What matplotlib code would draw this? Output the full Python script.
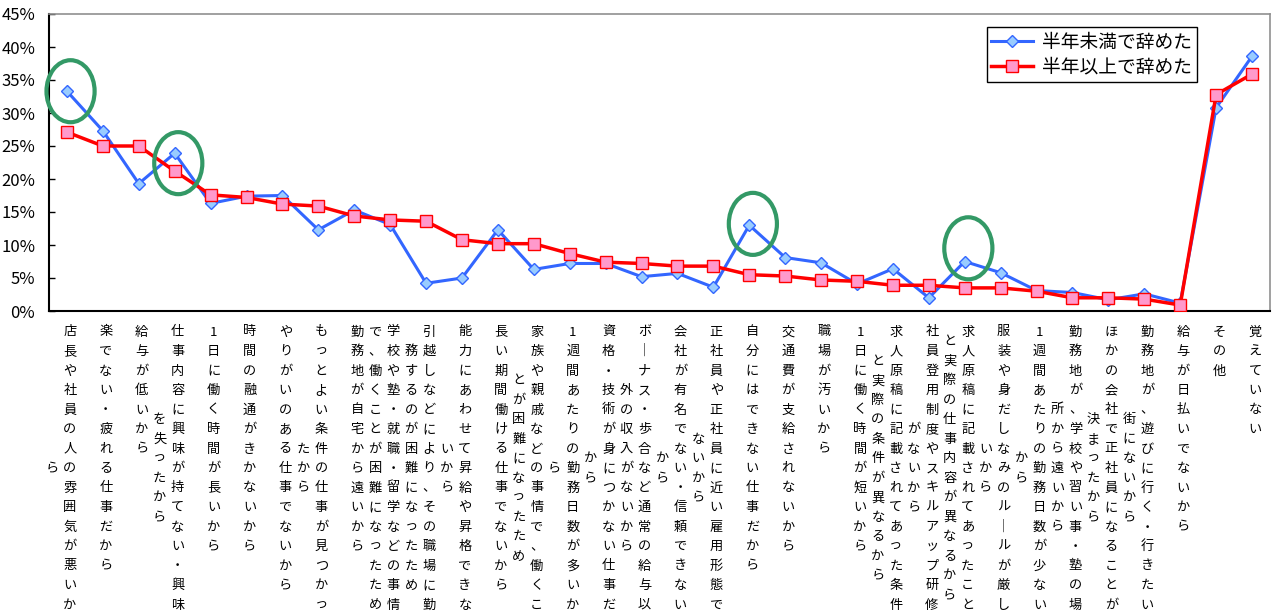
import matplotlib
matplotlib.use("Agg")
import matplotlib.pyplot as plt
import matplotlib.transforms as mtransforms
from matplotlib.patches import Ellipse
from matplotlib.ticker import FuncFormatter

plt.rcParams['font.family'] = ['Noto Sans CJK JP', 'DejaVu Sans']

# data (%)
reasons = [
    "店長や社員の人の雰囲気が悪いから",
    "楽でない・疲れる仕事だから",
    "給与が低いから",
    "仕事内容に興味が持てない・興味を失ったから",
    "1日に働く時間が長いから",
    "時間の融通がきかないから",
    "やりがいのある仕事でないから",
    "もっとよい条件の仕事が見つかったから",
    "勤務地が自宅から遠いから",
    "学校や塾・就職・留学などの事情で、働くことが困難になったため",
    "引越しなどにより、その職場に勤務するのが困難になったため",
    "能力にあわせて昇給や昇格できないから",
    "長い期間働ける仕事でないから",
    "家族や親戚などの事情で、働くことが困難になったため",
    "1週間あたりの勤務日数が多いから",
    "資格・技術が身につかない仕事だから",
    "ボーナス・歩合など通常の給与以外の収入がないから",
    "会社が有名でない・信頼できないから",
    "正社員や正社員に近い雇用形態でないから",
    "自分にはできない仕事だから",
    "交通費が支給されないから",
    "職場が汚いから",
    "1日に働く時間が短いから",
    "求人原稿に記載されてあった条件と実際の条件が異なるから",
    "社員登用制度やスキルアップ研修がないから",
    "求人原稿に記載されてあったことと実際の仕事内容が異なるから",
    "服装や身だしなみのルールが厳しいから",
    "1週間あたりの勤務日数が少ないから",
    "勤務地が、学校や習い事・塾の場所から遠いから",
    "ほかの会社で正社員になることが決まったから",
    "勤務地が、遊びに行く・行きたい街にないから",
    "給与が日払いでないから",
    "その他",
    "覚えていない",
]
under_half_year = [33.3, 27.3, 19.3, 23.9, 16.3, 17.4, 17.5, 12.3, 15.3, 13.1,
                   4.2, 5.0, 12.3, 6.3, 7.2, 7.2, 5.2, 5.7, 3.6, 13.0,
                   8.1, 7.3, 4.1, 6.4, 2.0, 7.5, 5.8, 3.1, 2.8, 1.7,
                   2.6, 1.2, 30.8, 38.6]
over_half_year = [27.1, 25.0, 25.0, 21.2, 17.6, 17.2, 16.2, 15.9, 14.4, 13.8,
                  13.6, 10.8, 10.2, 10.2, 8.7, 7.4, 7.2, 6.8, 6.8, 5.5,
                  5.3, 4.7, 4.5, 3.9, 3.9, 3.5, 3.5, 3.0, 2.0, 2.0,
                  1.8, 0.9, 32.8, 35.9]
series_names = ["半年未満で辞めた", "半年以上で辞めた"]
circled = [0, 3, 19, 25]
circle_shift = [0.0, -1.5, 0.2, 2.0]

fig = plt.figure(figsize=(12.73, 6.11), dpi=100)
ax = fig.add_axes([49 / 1273, 300 / 611, 1221 / 1273, 297 / 611])

x = list(range(len(reasons)))
ax.plot(x, under_half_year, color='#3366FF', lw=2.2, marker='D', ms=6.0,
        mfc='#99CCFF', mec='#3366FF', mew=1.0, label=series_names[0], zorder=3)
ax.plot(x, over_half_year, color='#FF0000', lw=2.5, marker='s', ms=9.0,
        mfc='#FF99CC', mec='#FF0000', mew=1.0, label=series_names[1], zorder=4)

# green rings drawn over the chart
for i, dy in zip(circled, circle_shift):
    ax.add_patch(Ellipse((i + 0.1, under_half_year[i] + dy), 1.34, 9.4,
                         fill=False, ec='#339966', lw=3.0, zorder=5, clip_on=False))

ax.set_xlim(-0.5, len(reasons) - 0.5)
ax.set_ylim(0, 45)
ax.set_yticks(range(0, 46, 5))
ax.yaxis.set_major_formatter(FuncFormatter(lambda v, p: f"{int(v)}%"))
ax.tick_params(axis='y', direction='in', length=4, width=1, labelsize=12, pad=10)
ax.set_xticks([])
for s in ['left', 'bottom']:
    ax.spines[s].set_color('black')
    ax.spines[s].set_linewidth(1.5)
for s in ['top', 'right']:
    ax.spines[s].set_color('#909090')
    ax.spines[s].set_linewidth(1.2)

leg = ax.legend(loc='upper right', bbox_to_anchor=(0.940, 0.956), borderaxespad=0,
                fontsize=13.5, handlelength=2.2, labelspacing=0.2, fancybox=False,
                framealpha=1, edgecolor='black', borderpad=0.25, handletextpad=0.5)
leg.get_frame().set_linewidth(1.0)

# vertical category labels, 15 characters per column, columns right to left
per_col = 15
row_px = 19.5
col_px = 18.0
vertical_forms = {'ー': '｜'}
for i, label in enumerate(reasons):
    cols = [label[k:k + per_col] for k in range(0, len(label), per_col)]
    for c, chunk in enumerate(cols):
        start = (per_col - len(chunk)) / 2 if c > 0 else 0
        for r, ch in enumerate(chunk):
            dx = (3 - c * col_px) / 100
            dy = -(21 + (start + r) * row_px) / 100
            tr = ax.transData + mtransforms.ScaledTranslation(dx, dy, fig.dpi_scale_trans)
            ax.text(i, 0, vertical_forms.get(ch, ch), transform=tr, ha='center',
                    va='center', fontsize=9.5, clip_on=False)

fig.savefig("out.png", dpi=100)
